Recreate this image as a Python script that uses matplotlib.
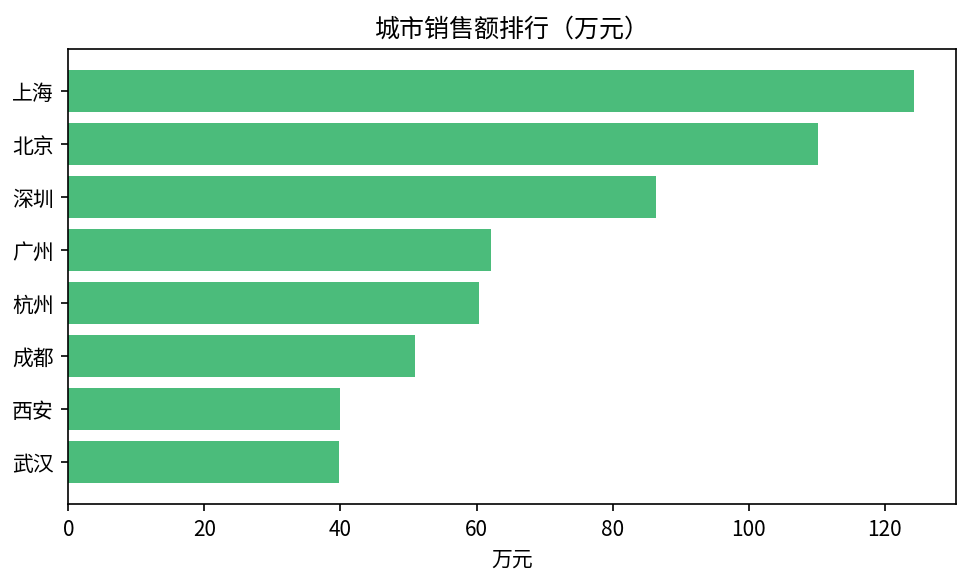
import matplotlib

matplotlib.use("Agg")
import matplotlib.pyplot as plt

plt.rcParams["font.family"] = ["Noto Sans CJK SC", "DejaVu Sans"]

# city sales, bottom to top as drawn
cities = ["武汉", "西安", "成都", "杭州", "广州", "深圳", "北京", "上海"]
sales = [39.8, 39.9, 50.9, 60.4, 62.1, 86.4, 110.2, 124.3]

fig, ax = plt.subplots(figsize=(6.5, 3.9), dpi=150)
ax.barh(cities, sales, color="#4BBC7B")
ax.set_title("城市销售额排行（万元）")
ax.set_xlabel("万元")
fig.subplots_adjust(left=0.070, right=0.981, top=0.916, bottom=0.1385)
fig.savefig("out.png", dpi=150)
